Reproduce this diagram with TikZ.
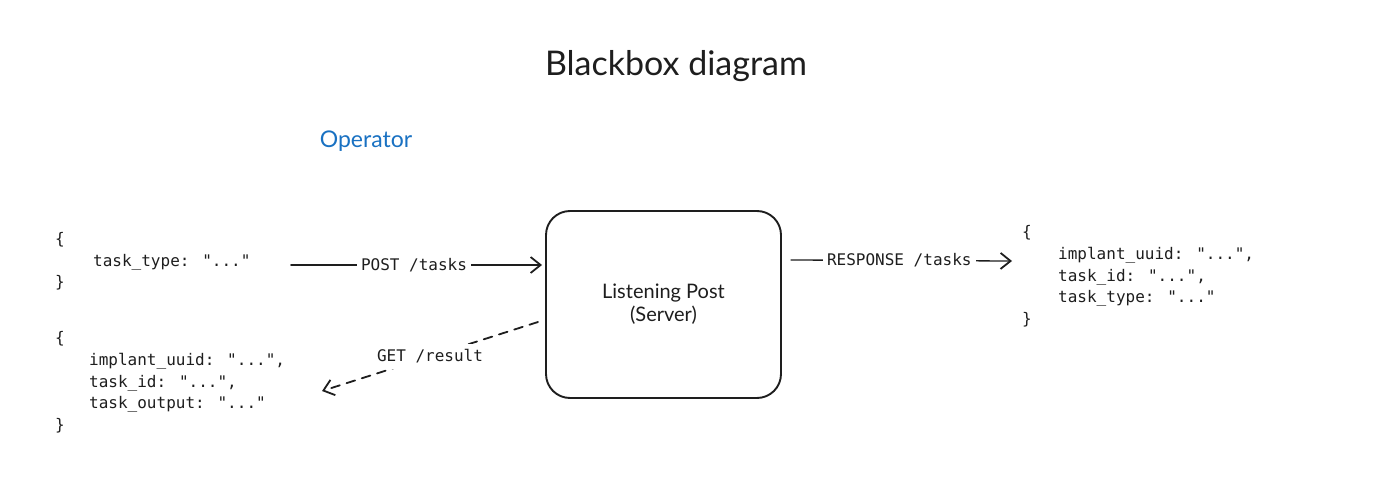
\documentclass[tikz,border=0pt]{standalone}
\usepackage{fontspec}
\setmainfont{Lato}
\newfontfamily\monofont{DejaVu Sans Mono}
\usetikzlibrary{arrows.meta}
\definecolor{ink}{HTML}{1E1E1E}
\definecolor{opblue}{HTML}{1971C2}
\tikzset{
  json/.style={inner sep=0pt, anchor=west, align=left, text=ink,
    font={\monofont\fontsize{16}{21.7}\selectfont}},
  conn/.style={draw=ink, line width=1.8pt, line cap=round,
    -{Straight Barb[length=10pt,width=16pt,line width=1.8pt]}},
  lbl/.style={fill=white, inner xsep=4pt, inner ysep=6pt, text=ink,
    font={\monofont\fontsize{16}{18}\selectfont}},
  serverbox/.style={draw=ink, line width=1.9pt, rounded corners=24pt,
    minimum width=235pt, minimum height=187pt, align=center, text=ink,
    font={\fontsize{20}{23}\selectfont}},
}
\begin{document}
\begin{tikzpicture}[x=1pt,y=-1pt]
\useasboundingbox[fill=white] (0,0) rectangle (1377,487);
% title
\node[text=ink, font={\fontsize{34}{38}\selectfont}] (title) at (676,66) {Blackbox diagram};
\node[text=opblue, font={\fontsize{23}{26}\selectfont}] (operator) at (366,141) {Operator};
% server
\node[serverbox] (server) at (663.5,304.5) {Listening Post\\(Server)};
% JSON blocks
\node[json] (jsonA) at (55,261.5) {\{\\\hspace*{38pt}task\_type: "..."\\\}};
\node[json] (jsonB) at (55,382.5) {\{\\\hspace*{34pt}implant\_uuid: "...",\\\hspace*{34pt}task\_id: "...",\\\hspace*{34pt}task\_output: "..."\\\}};
\node[json] (jsonC) at (1022,276.5) {\{\\\hspace*{36pt}implant\_uuid: "...",\\\hspace*{36pt}task\_id: "...",\\\hspace*{36pt}task\_type: "..."\\\}};
% connectors
\coordinate (postS) at (291,265);
\draw[conn] (postS) -- ([xshift=-3pt]postS -| server.west) node[lbl, pos=0.49] (postL) {POST /tasks};
\coordinate (getS) at (538,322);
\coordinate (getE) at (322,391);
\draw[conn, dashed, dash pattern=on 9pt off 7pt] (getS) -- (getE) node[lbl, pos=0.5] (getL) {GET /result};
\coordinate (respS) at (791,260);
\coordinate (respE) at (1012,261);
\draw[conn, line width=1.3pt] (respS) -- (respE) node[lbl, pos=0.49] (respL) {RESPONSE /tasks};
\end{tikzpicture}
\end{document}
